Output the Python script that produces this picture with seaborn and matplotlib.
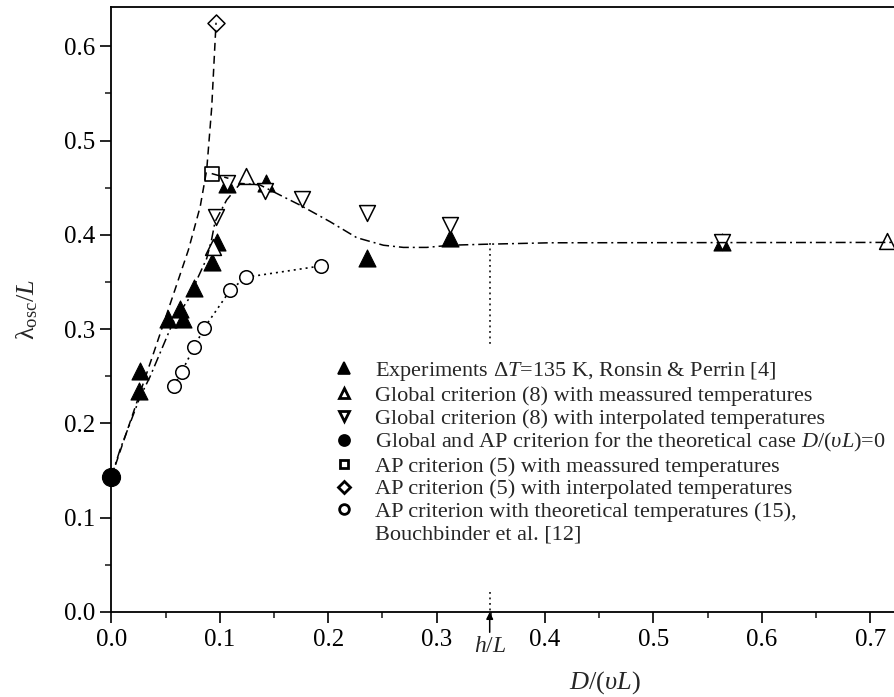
import numpy as np
import pandas as pd
import matplotlib
matplotlib.use("Agg")
import matplotlib.pyplot as plt
from matplotlib.lines import Line2D
from matplotlib.ticker import MultipleLocator
import seaborn as sns

# ---- data ----
# experiments, Ronsin & Perrin
exp_x = [0.0256, 0.0265, 0.0526, 0.0634, 0.0659, 0.0763, 0.0926, 0.0972, 0.1064, 0.1424, 0.2356, 0.3125, 0.563]
exp_y = [0.234, 0.256, 0.311, 0.321, 0.311, 0.344, 0.371, 0.392, 0.4535, 0.455, 0.375, 0.397, 0.392]
# global criterion, measured temperatures
glob_meas_x = [0.0935, 0.124, 0.7153]
glob_meas_y = [0.387, 0.462, 0.393]
# global criterion, interpolated temperatures
glob_int_x = [0.0963, 0.107, 0.1418, 0.1756, 0.2356, 0.3125, 0.563]
glob_int_y = [0.419, 0.455, 0.446, 0.438, 0.4235, 0.410, 0.3927]
# theoretical case D/(vL)=0
theo_x = [0.0]
theo_y = [0.143]
# AP criterion
ap_meas_x = [0.0926]
ap_meas_y = [0.465]
ap_int_x = [0.0966]
ap_int_y = [0.625]
# AP criterion, theoretical temperatures (Bouchbinder)
bouch_x = [0.0578, 0.0649, 0.0766, 0.0858, 0.1095, 0.124, 0.193]
bouch_y = [0.2397, 0.2548, 0.2813, 0.3015, 0.341, 0.355, 0.367]

# guide curves
glob_fit_x = [0.0, 0.008, 0.0265, 0.0357, 0.0572, 0.0726, 0.0788, 0.088, 0.0925, 0.0957, 0.1064,
              0.119, 0.137, 0.1587, 0.174, 0.2017, 0.2264, 0.251, 0.2694, 0.291, 0.3125, 0.343, 0.4047, 0.723]
glob_fit_y = [0.143, 0.172, 0.228, 0.2495, 0.308, 0.334, 0.352, 0.375, 0.395, 0.414, 0.437,
              0.4546, 0.453, 0.4404, 0.4316, 0.414, 0.397, 0.389, 0.3867, 0.3867, 0.389, 0.390, 0.3916, 0.392]
ap_fit_x = [0.0, 0.04, 0.0711, 0.082, 0.088, 0.0926, 0.0966]
ap_fit_y = [0.143, 0.278, 0.384, 0.43, 0.469, 0.535, 0.625]
ap_tail_x = [0.0926, 0.108]
ap_tail_y = [0.465, 0.460]

h_over_L = 0.349

legend_labels = [
    r"Experiments $\Delta T$=135 K, Ronsin & Perrin [4]",
    "Global criterion (8) with meassured temperatures",
    "Global criterion (8) with interpolated temperatures",
    r"Global and AP criterion for the theoretical case $D/(\upsilon L)$=0",
    "AP criterion (5) with meassured temperatures",
    "AP criterion (5) with interpolated temperatures",
    "AP criterion with theoretical temperatures (15),",
    "Bouchbinder et al. [12]",
]

# ---- style ----
sns.set_theme(style="ticks")
plt.rcParams["font.family"] = ["Liberation Serif", "DejaVu Serif"]
plt.rcParams["mathtext.fontset"] = "custom"
plt.rcParams["mathtext.rm"] = "Liberation Serif"
plt.rcParams["mathtext.it"] = "Liberation Serif:italic"
plt.rcParams["mathtext.bf"] = "Liberation Serif:bold"

W, H = 895, 697
fig = plt.figure(figsize=(W / 100, H / 100), dpi=100)
x0, x1, ytop, ybot = 111.3, 895.0, 6.7, 612.0
ax = fig.add_axes([x0 / W, 1 - ybot / H, (x1 - x0) / W, (ybot - ytop) / H])

dashdot = (0, (6.5, 2.6, 1.3, 2.6))
dashed = (0, (5.2, 3.3))
dotted = (0, (1.2, 2.4))

# guide lines
sns.lineplot(x=glob_fit_x, y=glob_fit_y, sort=False, estimator=None, ax=ax, color="black",
             lw=1.1, linestyle=dashdot, zorder=4)
sns.lineplot(x=ap_fit_x, y=ap_fit_y, sort=False, estimator=None, ax=ax, color="black",
             lw=1.1, linestyle=dashed, zorder=4)
sns.lineplot(x=ap_tail_x, y=ap_tail_y, sort=False, estimator=None, ax=ax, color="black",
             lw=1.1, linestyle=dashed, zorder=4)
sns.lineplot(x=bouch_x, y=bouch_y, sort=False, estimator=None, ax=ax, color="black",
             lw=1.2, linestyle=dotted, zorder=2)

# h/L marker lines
ax.plot([h_over_L, h_over_L], [0.391, 0.283], color="black", lw=1.1, linestyle=dotted)
ax.plot([h_over_L, h_over_L], [0.021, 0.0], color="black", lw=1.1, linestyle=dotted)

# markers
sns.scatterplot(x=exp_x, y=exp_y, ax=ax, marker="^", s=150, color="black", edgecolor="black",
                linewidth=0.8, zorder=3)
sns.scatterplot(x=glob_meas_x, y=glob_meas_y, ax=ax, marker="^", s=130, color="white",
                edgecolor="black", linewidth=1.1, zorder=3.2)
sns.scatterplot(x=glob_int_x, y=glob_int_y, ax=ax, marker="v", s=130, color="white",
                edgecolor="black", linewidth=1.1, zorder=3.2)
sns.scatterplot(x=bouch_x, y=bouch_y, ax=ax, marker="o", s=95, color="white",
                edgecolor="black", linewidth=1.1, zorder=3.2)
sns.scatterplot(x=ap_meas_x, y=ap_meas_y, ax=ax, marker="s", s=95, color="white",
                edgecolor="black", linewidth=1.2, zorder=3.2)
sns.scatterplot(x=ap_int_x, y=ap_int_y, ax=ax, marker="D", s=75, color="white",
                edgecolor="black", linewidth=1.1, zorder=3.2)
sns.scatterplot(x=theo_x, y=theo_y, ax=ax, marker="o", s=170, color="black",
                edgecolor="black", linewidth=0.8, zorder=5, clip_on=False)

# axes
ax.set_xlim(0, 0.7228)
ax.set_ylim(0, 0.642)
ax.xaxis.set_major_locator(MultipleLocator(0.1))
ax.xaxis.set_minor_locator(MultipleLocator(0.05))
ax.yaxis.set_major_locator(MultipleLocator(0.1))
ax.yaxis.set_minor_locator(MultipleLocator(0.05))
ax.xaxis.set_major_formatter(matplotlib.ticker.FormatStrFormatter("%.1f"))
ax.yaxis.set_major_formatter(matplotlib.ticker.FormatStrFormatter("%.1f"))
ax.tick_params(which="major", direction="out", length=8, width=1.2, labelsize=18, colors="black")
ax.tick_params(which="minor", direction="out", length=4.5, width=1.2)
ax.tick_params(axis="x", pad=4)
for side in ["left", "bottom", "top"]:
    ax.spines[side].set_linewidth(1.3)
    ax.spines[side].set_color("black")
ax.spines["right"].set_visible(False)

ax.set_xlabel(r"$D/(\upsilon L)$", fontsize=19)
ax.set_ylabel(r"$\mathrm{\lambda}_{\mathrm{osc}}/L$", fontsize=19)
ax.xaxis.set_label_coords((605 - x0) / (x1 - x0), (ybot - 669) / (ybot - ytop))
ax.yaxis.set_label_coords((40 - x0) / (x1 - x0), 0.5)

ax.annotate(r"$h/L$", xy=(h_over_L, 0.0), xytext=(h_over_L, -0.025),
            textcoords="data", ha="center", va="top", fontsize=17,
            arrowprops=dict(arrowstyle="-|>", color="black", lw=1.1,
                            mutation_scale=10, shrinkA=0, shrinkB=0),
            annotation_clip=False)

# legend
handles = [
    Line2D([], [], ls="none", marker="^", ms=8, mfc="black", mec="black", mew=1.2),
    Line2D([], [], ls="none", marker="^", ms=7, mfc="white", mec="black", mew=2.0),
    Line2D([], [], ls="none", marker="v", ms=7, mfc="white", mec="black", mew=2.0),
    Line2D([], [], ls="none", marker="o", ms=8, mfc="black", mec="black", mew=1.2),
    Line2D([], [], ls="none", marker="s", ms=6, mfc="white", mec="black", mew=2.0),
    Line2D([], [], ls="none", marker="D", ms=6, mfc="white", mec="black", mew=2.0),
    Line2D([], [], ls="none", marker="o", ms=7, mfc="white", mec="black", mew=2.0),
    Line2D([], [], ls="none"),
]
lx = (332.5 - x0) / (x1 - x0)
ly = (ybot - 360) / (ybot - ytop)
ax.legend(handles, legend_labels, loc="upper left", bbox_to_anchor=(lx, ly), frameon=False,
          fontsize=16, handlelength=1.0, handletextpad=0.9, labelspacing=0.1,
          borderpad=0, borderaxespad=0)

fig.savefig("out.png", dpi=100)
